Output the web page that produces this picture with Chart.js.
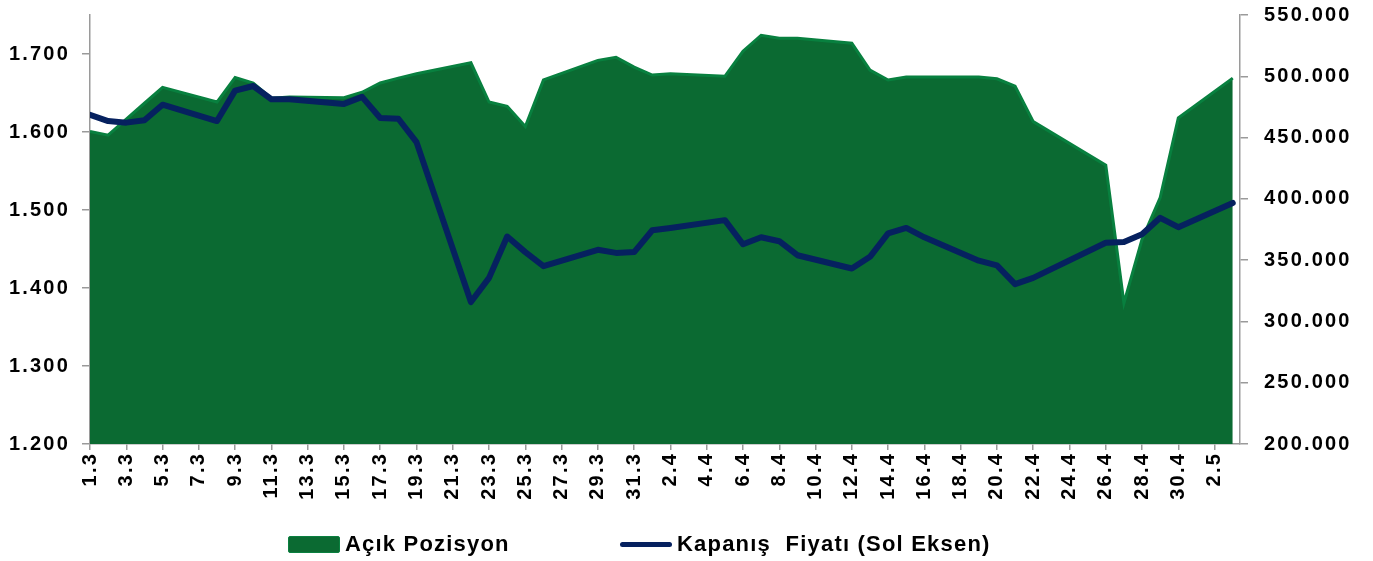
<!DOCTYPE html>
<html>
<head>
<meta charset="utf-8">
<script src="https://cdn.jsdelivr.net/npm/chart.js@4.4.1/dist/chart.umd.min.js"></script>
<style>
html,body{margin:0;padding:0;background:#fff;}
#wrap{position:relative;width:1373px;height:561px;overflow:hidden;}
canvas{display:block;}
.leg{position:absolute;top:532px;height:24px;display:flex;align-items:center;font:bold 22px 'Liberation Sans',Arial,sans-serif;letter-spacing:1.2px;white-space:pre;color:#000;}
.box{width:50px;height:15px;background:#0b6a32;border:1px solid #0a8040;border-radius:2px;margin-right:5px;}
.ln{width:52px;height:5px;background:#06215f;border-radius:3px;margin-right:5px;}
</style>
</head>
<body>
<div id="wrap">
<canvas id="c" width="1373" height="561"></canvas>
<div class="leg" style="left:288px"><div class="box"></div><span>Açık Pozisyon</span></div>
<div class="leg" style="left:620px"><div class="ln"></div><span>Kapanış  Fiyatı (Sol Eksen)</span></div>
</div>
<script>
// Calendar days from 1 March to 3 May (category labels)
const dates = [
 '1.3','2.3','3.3','4.3','5.3','6.3','7.3','8.3','9.3','10.3','11.3','12.3','13.3','14.3','15.3','16.3',
 '17.3','18.3','19.3','20.3','21.3','22.3','23.3','24.3','25.3','26.3','27.3','28.3','29.3','30.3','31.3',
 '1.4','2.4','3.4','4.4','5.4','6.4','7.4','8.4','9.4','10.4','11.4','12.4','13.4','14.4','15.4','16.4',
 '17.4','18.4','19.4','20.4','21.4','22.4','23.4','24.4','25.4','26.4','27.4','28.4','29.4','30.4',
 '1.5','2.5','3.5'
];

// Closing price (left axis); null = no trading day
const closePrice = [
 1622,1614,1612,1615,1635,null,null,1614,1653,1659,1642,1642,null,null,1636,1645,
 1618,1617,1587,null,null,1382,1413,1466,1446,1428,null,null,1449,1445,1446,
 1474,1477,null,null,1487,1456,1465,1460,1442,null,null,1425,1440,1470,1477,1465,
 null,null,1435,1429,1405,1413,null,null,null,1458,1459,1469,1490,1478,
 null,null,1509
];

// Open interest (right axis); null = no trading day
const openInterest = [
 455000,452000,465000,478000,491000,null,null,479000,499000,494500,482000,483000,null,null,482500,487000,
 494500,498500,502000,null,null,511000,479000,475500,459000,497000,null,null,513000,515500,507500,
 501000,502000,null,null,500000,520500,533500,531000,531000,null,null,527000,505000,497000,499500,499500,
 null,null,499500,498000,492000,463000,null,null,null,427500,315000,367000,401000,466000,
 null,null,498500
];

const leftTicks = [1200, 1300, 1400, 1500, 1600, 1700];
const rightTicks = [200000, 250000, 300000, 350000, 400000, 450000, 500000, 550000];

const toPoints = arr => arr.map((v, i) => v == null ? null : {x: i, y: v}).filter(p => p);
const fmt = v => String(v).replace(/\B(?=(\d{3})+(?!\d))/g, '.');

const FONT = "'Liberation Sans', Arial, sans-serif";
const SPACING = '2.2px';
const spacingPlugin = {
  id: 'spacing',
  beforeUpdate(ch) { ch.ctx.letterSpacing = SPACING; },
  beforeLayout(ch) { ch.ctx.letterSpacing = SPACING; },
  beforeDraw(ch) { ch.ctx.letterSpacing = SPACING; }
};

new Chart(document.getElementById('c'), {
  type: 'line',
  plugins: [spacingPlugin],
  data: {
    datasets: [
      {
        label: 'Kapanış  Fiyatı (Sol Eksen)',
        data: toPoints(closePrice),
        yAxisID: 'yL',
        borderColor: '#06215f',
        borderWidth: 6,
        borderJoinStyle: 'round',
        borderCapStyle: 'round',
        pointRadius: 0,
        tension: 0,
        fill: false,
        order: 0
      },
      {
        label: 'Açık Pozisyon',
        data: toPoints(openInterest),
        yAxisID: 'yR',
        borderColor: '#08803f',
        backgroundColor: '#0b6a32',
        borderWidth: 3,
        pointRadius: 0,
        tension: 0,
        fill: 'start',
        order: 1
      }
    ]
  },
  options: {
    responsive: false,
    animation: false,
    devicePixelRatio: 1,
    layout: {padding: {top: 0, left: 0, right: 0, bottom: 0}},
    plugins: {legend: {display: false}, tooltip: {enabled: false}},
    scales: {
      x: {
        type: 'linear',
        min: 0,
        max: 63.4,
        afterFit(s) { s.height = 117; },
        border: {color: '#9a9a9a', width: 1.5},
        grid: {display: true, drawOnChartArea: false, drawTicks: true, tickLength: 6, color: '#9a9a9a', lineWidth: 1.5},
        ticks: {
          stepSize: 2,
          autoSkip: false,
          includeBounds: false,
          maxRotation: 90,
          minRotation: 90,
          padding: 2,
          color: '#000',
          font: {family: FONT, size: 20, weight: 'bold'},
          callback: v => dates[v]
        }
      },
      yL: {
        position: 'left',
        min: 1200,
        max: 1750,
        afterFit(s) { s.width = 90; s.paddingTop = 15; s.paddingBottom = 0; },
        afterBuildTicks(s) { s.ticks = leftTicks.map(v => ({value: v})); },
        border: {color: '#9a9a9a', width: 1.5},
        grid: {display: true, drawOnChartArea: false, drawTicks: true, tickLength: 8, color: '#9a9a9a', lineWidth: 1.5},
        ticks: {
          padding: 12,
          color: '#000',
          font: {family: FONT, size: 20, weight: 'bold'},
          callback: v => fmt(v)
        }
      },
      yR: {
        position: 'right',
        min: 200000,
        max: 550000,
        afterFit(s) { s.width = 133; s.paddingTop = 15; s.paddingBottom = 0; },
        afterBuildTicks(s) { s.ticks = rightTicks.map(v => ({value: v})); },
        border: {color: '#9a9a9a', width: 1.5},
        grid: {display: true, drawOnChartArea: false, drawTicks: true, tickLength: 8, color: '#9a9a9a', lineWidth: 1.5},
        ticks: {
          padding: 16,
          color: '#000',
          font: {family: FONT, size: 20, weight: 'bold'},
          callback: v => fmt(v)
        }
      }
    }
  }
});
</script>
</body>
</html>
